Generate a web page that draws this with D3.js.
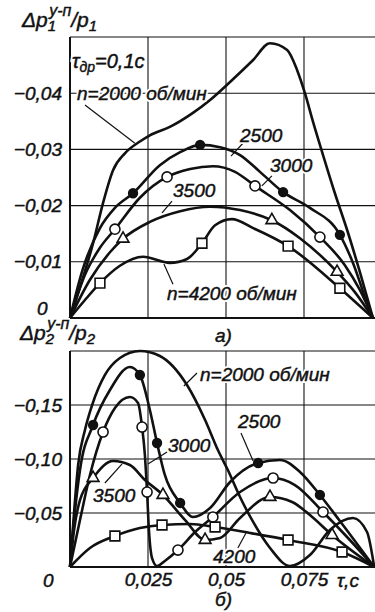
<!DOCTYPE html>
<html>
<head>
<meta charset="utf-8">
<script src="https://cdn.jsdelivr.net/npm/d3@7"></script>
<style>
body { margin: 0; background: #fff; }
text { font-family: "Liberation Sans", Arial, sans-serif; font-style: italic; fill: #111; }
</style>
</head>
<body>
<svg id="chart" width="375" height="612"></svg>
<script>
// tau, s
var xTicks = [0.025, 0.05, 0.075];
var xLabels = ["0,025", "0,05", "0,075"];

// panel a) dp1/p1
var yTicks1 = [-0.01, -0.02, -0.03, -0.04];
var yLabels1 = ["−0,01", "−0,02", "−0,03", "−0,04"];
// panel б) dp2/p2
var yTicks2 = [-0.05, -0.10, -0.15];
var yLabels2 = ["−0,05", "−0,10", "−0,15"];

var speeds = ["2000", "2500", "3000", "3500", "4200"];

// ---- panel a) curves [tau, value]
var a2000 = [[0,0],[0.0032,-0.0055],[0.0074,-0.0133],[0.0106,-0.0205],[0.0138,-0.0263],[0.0176,-0.0293],
  [0.0224,-0.0314],[0.0256,-0.0325],[0.032,-0.034],[0.0394,-0.0365],[0.0449,-0.0388],[0.0513,-0.042],
  [0.0587,-0.0459],[0.0641,-0.0489],[0.0696,-0.0477],[0.0728,-0.0441],[0.0753,-0.040],[0.0779,-0.0349],
  [0.0811,-0.029],[0.0849,-0.0222],[0.0888,-0.0157],[0.0929,-0.0082],[0.0971,0]];
var a2500 = [[0,0],[0.004,-0.0085],[0.0096,-0.016],[0.0144,-0.0196],[0.0202,-0.0222],[0.0288,-0.0272],
  [0.0353,-0.0295],[0.0417,-0.0308],[0.0481,-0.0304],[0.0545,-0.029],[0.0609,-0.026],[0.0683,-0.0224],
  [0.0769,-0.0196],[0.0865,-0.0148],[0.0907,-0.0098],[0.0952,-0.0027],[0.0971,0]];
var a2500pts = [[0.0202,-0.0222],[0.0417,-0.0308],[0.0683,-0.0224],[0.0865,-0.0148]];
var a3000 = [[0,0],[0.0048,-0.0077],[0.0096,-0.0125],[0.0144,-0.0158],[0.0224,-0.0214],[0.0311,-0.0251],
  [0.0385,-0.0265],[0.0458,-0.027],[0.0529,-0.026],[0.0593,-0.0235],[0.0705,-0.0192],[0.0801,-0.0144],
  [0.0881,-0.0094],[0.0929,-0.005],[0.0971,0]];
var a3000pts = [[0.0144,-0.0158],[0.0311,-0.0251],[0.0593,-0.0235],[0.0801,-0.0144]];
var a3500 = [[0,0],[0.0064,-0.0068],[0.0128,-0.0117],[0.017,-0.0141],[0.0256,-0.0171],[0.0353,-0.019],
  [0.0449,-0.0198],[0.0545,-0.0192],[0.0647,-0.0174],[0.0737,-0.0142],[0.0856,-0.0082],[0.0913,-0.0046],[0.0971,0]];
var a3500pts = [[0.017,-0.0141],[0.0647,-0.0174],[0.0856,-0.0082]];
var a4200 = [[0,0],[0.0048,-0.0032],[0.0096,-0.0062],[0.016,-0.0093],[0.0234,-0.0109],[0.032,-0.0098],
  [0.0375,-0.0105],[0.0423,-0.0133],[0.0465,-0.0165],[0.0519,-0.0176],[0.0587,-0.016],[0.0699,-0.0128],
  [0.0865,-0.0053],[0.0971,0]];
var a4200pts = [[0.0096,-0.0062],[0.0423,-0.0133],[0.0699,-0.0128],[0.0865,-0.0053]];

// ---- panel б) curves [tau, value]
var b2000 = [[0,0],[0.001,-0.0389],[0.0026,-0.0944],[0.0048,-0.1269],[0.0071,-0.15],[0.0112,-0.1778],
  [0.016,-0.1935],[0.0224,-0.2],[0.0288,-0.1954],[0.0375,-0.1685],[0.0433,-0.1361],[0.0474,-0.1083],
  [0.0506,-0.0898],[0.0545,-0.0648],[0.0587,-0.0417],[0.0641,-0.0176],[0.0705,-0.0009],[0.0769,-0.0111],
  [0.0833,-0.0343],[0.0907,-0.0454],[0.0952,-0.0324],[0.0975,0]];
var b2500 = [[0,0],[0.0013,-0.0435],[0.0032,-0.0898],[0.0074,-0.1315],[0.0128,-0.1639],[0.0192,-0.1852],
  [0.0224,-0.1778],[0.0256,-0.1454],[0.0279,-0.1148],[0.0304,-0.0852],[0.0353,-0.0593],[0.0394,-0.0463],
  [0.0449,-0.0546],[0.0513,-0.0787],[0.0603,-0.0963],[0.0673,-0.0991],[0.0737,-0.088],[0.0801,-0.0667],
  [0.0865,-0.0426],[0.0975,0]];
var b2500pts = [[0.0074,-0.1315],[0.0224,-0.1778],[0.0279,-0.1148],[0.0353,-0.0593],[0.0603,-0.0963],[0.0801,-0.0667]];
var b3000 = [[0,0],[0.0032,-0.0435],[0.0064,-0.0852],[0.0106,-0.125],[0.0144,-0.1472],[0.0192,-0.1574],
  [0.0218,-0.1519],[0.0231,-0.1296],[0.024,-0.1037],[0.0247,-0.0694],[0.0253,-0.0343],[0.0263,-0.0083],
  [0.0279,-0.0009],[0.0304,-0.0056],[0.0346,-0.0157],[0.0401,-0.0324],[0.0458,-0.0463],[0.0545,-0.0694],
  [0.0651,-0.0824],[0.0721,-0.0759],[0.0811,-0.0509],[0.0897,-0.025],[0.0975,0]];
var b3000pts = [[0.0106,-0.125],[0.0231,-0.1296],[0.0247,-0.0694],[0.0346,-0.0157],[0.0458,-0.0463],[0.0651,-0.0824],[0.0811,-0.0509]];
var b3500 = [[0,0],[0.0013,-0.0343],[0.0032,-0.062],[0.0074,-0.0824],[0.0138,-0.0981],[0.0192,-0.0944],
  [0.024,-0.0806],[0.0298,-0.0667],[0.0369,-0.0435],[0.0433,-0.025],[0.0481,-0.0269],[0.0545,-0.0454],
  [0.0641,-0.0648],[0.0712,-0.0602],[0.0769,-0.0481],[0.084,-0.0296],[0.0975,0]];
var b3500pts = [[0.0074,-0.0824],[0.0298,-0.0667],[0.0433,-0.025],[0.0641,-0.0648],[0.084,-0.0296]];
var b4200 = [[0,0],[0.0064,-0.0176],[0.0144,-0.0287],[0.0224,-0.0361],[0.0295,-0.0389],[0.0385,-0.0398],
  [0.0465,-0.037],[0.0577,-0.0315],[0.0699,-0.025],[0.0872,-0.0139],[0.0975,0]];
var b4200pts = [[0.0144,-0.0287],[0.0295,-0.0389],[0.0465,-0.037],[0.0699,-0.025],[0.0872,-0.0139]];

var svg = d3.select("#chart");

var x = d3.scaleLinear().domain([0, 0.1]).range([70, 382]);
var y1 = d3.scaleLinear().domain([0, -0.05]).range([318, 37]);
var y2 = d3.scaleLinear().domain([0, -0.2]).range([567, 351]);

var marker = {
	"2500": {type: d3.symbolCircle, size: 60, fill: "#111"},
	"3000": {type: d3.symbolCircle, size: 80, fill: "#fff"},
	"3500": {type: d3.symbolTriangle, size: 60, fill: "#fff"},
	"4200": {type: d3.symbolSquare, size: 95, fill: "#fff"}
};

function drawPanel(y, lines, pts, yTicks, yLabels){
	var g = svg.append("g");
	var top = y.range()[1], bot = y.range()[0];

	// grid
	g.selectAll(".hg").data(yTicks.concat([y.domain()[1]])).enter()
		.append("line")
		.attr("x1", 70).attr("x2", 375)
		.attr("y1", function(d){ return y(d); }).attr("y2", function(d){ return y(d); })
		.attr("stroke", "#111").attr("stroke-width", 1.1);
	g.selectAll(".vg").data(xTicks).enter()
		.append("line")
		.attr("x1", function(d){ return x(d); }).attr("x2", function(d){ return x(d); })
		.attr("y1", top).attr("y2", bot)
		.attr("stroke", "#111").attr("stroke-width", 1.1);

	// frame
	g.append("line").attr("x1", 70).attr("x2", 70).attr("y1", top).attr("y2", bot)
		.attr("stroke", "#111").attr("stroke-width", 2);
	g.append("line").attr("x1", 70).attr("x2", 375).attr("y1", bot).attr("y2", bot)
		.attr("stroke", "#111").attr("stroke-width", 2);

	var axis = d3.axisLeft(y).tickValues(yTicks).tickSize(0).tickPadding(8)
		.tickFormat(function(d, i){ return yLabels[i]; });
	var ax = g.append("g").attr("transform", "translate(70,0)").call(axis);
	ax.select(".domain").remove();
	ax.selectAll("text").attr("font-size", 19).style("font-family", "Liberation Sans")
		.style("font-style", "italic").attr("fill", "#111")
		.attr("stroke", "#111").attr("stroke-width", 0.45);

	var line = d3.line()
		.x(function(d){ return x(d[0]); })
		.y(function(d){ return y(d[1]); })
		.curve(d3.curveMonotoneX);

	g.selectAll(".curve").data(lines).enter()
		.append("path")
		.attr("d", function(d){ return line(d); })
		.attr("fill", "none").attr("stroke", "#111").attr("stroke-width", 2.6)
		.attr("stroke-linejoin", "round");

	pts.forEach(function(p){
		var m = marker[p.n];
		g.selectAll(null).data(p.pts).enter()
			.append("path")
			.attr("transform", function(d){ return "translate(" + x(d[0]) + "," + y(d[1]) + ")"; })
			.attr("d", d3.symbol().type(m.type).size(m.size))
			.attr("fill", m.fill).attr("stroke", "#111").attr("stroke-width", 1.6);
	});
	return g;
}

drawPanel(y1, [a2000, a2500, a3000, a3500, a4200],
	[{n: "2500", pts: a2500pts}, {n: "3000", pts: a3000pts}, {n: "3500", pts: a3500pts}, {n: "4200", pts: a4200pts}],
	yTicks1, yLabels1);
drawPanel(y2, [b2000, b2500, b3000, b3500, b4200],
	[{n: "2500", pts: b2500pts}, {n: "3000", pts: b3000pts}, {n: "3500", pts: b3500pts}, {n: "4200", pts: b4200pts}],
	yTicks2, yLabels2);

// x axis (bottom panel only)
var xAxis = d3.axisBottom(x).tickValues(xTicks).tickSize(0).tickPadding(6)
	.tickFormat(function(d, i){ return xLabels[i]; });
var xa = svg.append("g").attr("transform", "translate(0,567)").call(xAxis);
xa.select(".domain").remove();
xa.selectAll("text").attr("font-size", 19).style("font-family", "Liberation Sans")
	.style("font-style", "italic").attr("fill", "#111")
	.attr("stroke", "#111").attr("stroke-width", 0.45);

// leader lines (data coords)
function leader(y, a, b){
	svg.append("line")
		.attr("x1", x(a[0])).attr("y1", y(a[1]))
		.attr("x2", x(b[0])).attr("y2", y(b[1]))
		.attr("stroke", "#111").attr("stroke-width", 1.2);
}
leader(y1, [0.0048,-0.0379], [0.0208,-0.0311]);
leader(y1, [0.0561,-0.0315], [0.0516,-0.0288]);
leader(y1, [0.0647,-0.0253], [0.0615,-0.0235]);
leader(y1, [0.0327,-0.0208], [0.0295,-0.0187]);
leader(y1, [0.033,-0.006], [0.0301,-0.0096]);
leader(y2, [0.0407,-0.1796], [0.0365,-0.1676]);
leader(y2, [0.0548,-0.1241], [0.0587,-0.0981]);
leader(y2, [0.0311,-0.1065], [0.025,-0.0954]);
leader(y2, [0.0112,-0.0778], [0.0167,-0.0954]);
leader(y2, [0.0538,-0.0176], [0.0564,-0.0315]);

// text with optional white halo, slightly thickened like the print
function label(x0, y0, s, halo){
	if (halo) {
		svg.append("text").attr("x", x0).attr("y", y0).attr("font-size", 19)
			.attr("fill", "#fff").attr("stroke", "#fff").attr("stroke-width", 4).text(s);
	}
	return svg.append("text").attr("x", x0).attr("y", y0).attr("font-size", 19)
		.attr("stroke", "#111").attr("stroke-width", 0.45).text(s);
}

// panel a) labels
label(77, 100, "n=" + speeds[0] + " об/мин", true);
label(240, 142, speeds[1], true);
label(270, 172, speeds[2], true);
label(173, 197, speeds[3], true);
label(167, 300, "n=" + speeds[4] + " об/мин", true);
[["#fff", 4], ["#111", 0.45]].forEach(function(s){
	var tdr = svg.append("text").attr("x", 72).attr("y", 68).attr("font-size", 20)
		.attr("stroke", s[0]).attr("stroke-width", s[1]).attr("fill", s[0]);
	tdr.append("tspan").text("τ");
	tdr.append("tspan").attr("font-size", 14).attr("dy", 4).text("др");
	tdr.append("tspan").attr("dy", -4).text("=0,1с");
});
label(37, 315, "0");
label(215, 342, "а)");

// panel б) labels
label(200, 381, "n=" + speeds[0] + " об/мин", true);
label(238, 428, speeds[1], true);
label(168, 452, speeds[2], true);
label(93, 502, speeds[3], true);
label(213, 563, speeds[4], true);
label(43, 587, "0");
label(337, 587, "τ,с");
label(215, 606, "б)");

// axis titles
function title(x0, y0, k){
	var t = svg.append("text").attr("x", x0).attr("y", y0).attr("font-size", 21)
		.attr("stroke", "#111").attr("stroke-width", 0.45);
	t.append("tspan").text("Δp");
	t.append("tspan").attr("font-size", 15).attr("dy", 4).text(k);
	t.append("tspan").attr("font-size", 16).attr("dx", -7).attr("dy", -15).text("у-п");
	t.append("tspan").attr("dy", 11).text("/p");
	t.append("tspan").attr("font-size", 15).attr("dy", 4).text(k);
}
title(22, 27, "1");
title(20, 340, "2");
</script>
</body>
</html>
